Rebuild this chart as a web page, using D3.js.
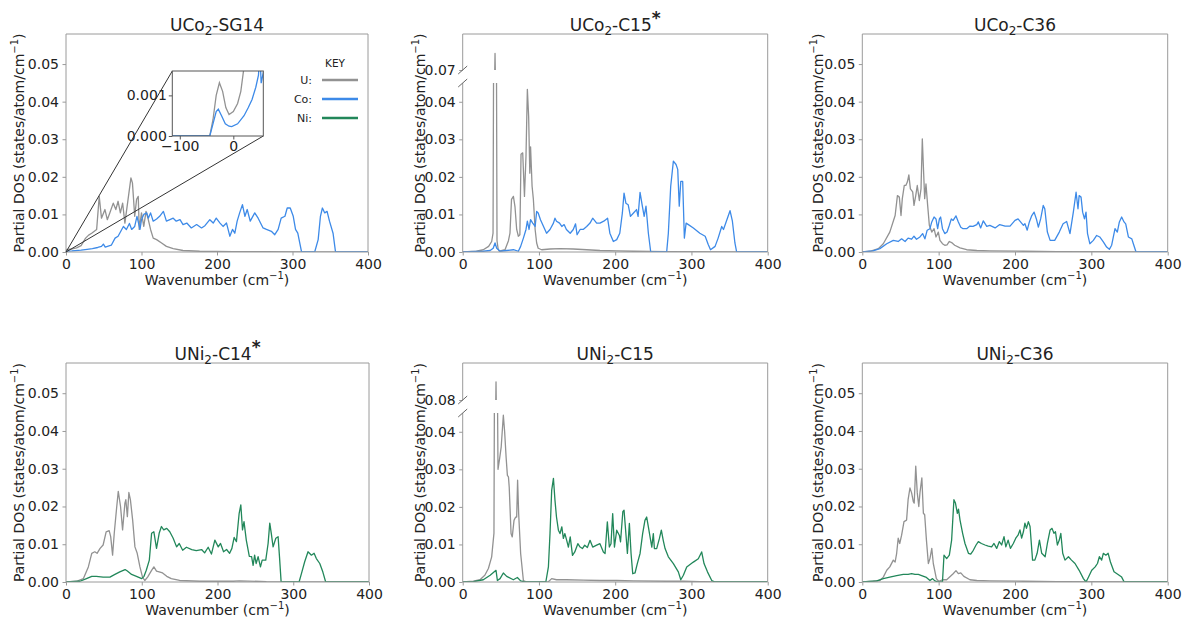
<!DOCTYPE html>
<html><head><meta charset="utf-8">
<script src="https://cdn.jsdelivr.net/npm/d3@7"></script>
<style>
body{margin:0;background:#fff}
svg{display:block}
text{font-family:"DejaVu Sans",sans-serif;fill:#222}
</style></head>
<body><svg id="c" width="1182" height="618"></svg>
<script>
// ---------------- DATA ----------------
const xTicks = [0, 100, 200, 300, 400];
const yTicks = [0, 0.01, 0.02, 0.03, 0.04, 0.05];
const yTicksBroken = [0, 0.01, 0.02, 0.03, 0.04];
const insetXTicks = [-100, 0];
const insetYTicks = [0, 0.001];
const legendLabels = ["U:", "Co:", "Ni:"];

// UCo2-SG14
const sg14_U = [[-115,0],[-44,0],[-38,0.0004],[-32,0.001],[-26,0.00131],[-20,0.0011],[-14,0.0007],[-8,0.00053],[0,0.0006],[8,0.0008],[14,0.0011],[20,0.0017],[26,0.0037],[30,0.0045],[34,0.005],[40.6,0.006],[44,0.0148],[47,0.009],[51.6,0.0113],[54.7,0.0086],[58,0.0104],[62.6,0.013],[66,0.0113],[69,0.0135],[72,0.0104],[75,0.013],[78,0.0077],[81,0.0122],[86,0.0197],[88,0.0184],[91,0.0095],[93.5,0.014],[95.7,0.0148],[97,0.006],[100,0.0104],[103,0.0068],[106,0.0108],[109,0.0086],[112,0.006],[115.5,0.0037],[120,0.0033],[126.6,0.0024],[133,0.0015],[142,0.0009],[155,0.0004],[177,0.0002],[221,0.0001],[265,0.0001],[310,0],[400,0]];
const sg14_Co = [[-115,0],[-44,0],[-38,0.0003],[-32,0.0006],[-28,0.00066],[-22,0.0005],[-15,0.0003],[-8,0.00024],[-3,0.00023],[8,0.0003],[20,0.0005],[28,0.0007],[35,0.0009],[42,0.0012],[47,0.0015],[49.5,0.0021],[52,0.0013],[55,0.0015],[60,0.0018],[65,0.0037],[69,0.0042],[76,0.0068],[80,0.006],[84,0.0076],[87,0.006],[91,0.0068],[94,0.0095],[98,0.006],[100,0.0086],[103,0.01],[107,0.0104],[109,0.009],[112,0.0104],[115.5,0.0082],[120,0.0088],[124,0.0095],[129,0.0108],[133,0.0082],[137.6,0.0086],[142,0.009],[146,0.0082],[151,0.0086],[155,0.0073],[160,0.0077],[166,0.0064],[173,0.0073],[179.5,0.0064],[184,0.007],[190.5,0.0086],[195,0.0077],[199,0.009],[204,0.0077],[208,0.0068],[212.6,0.0077],[217,0.0042],[220.5,0.006],[223.6,0.005],[226.7,0.0082],[230,0.0104],[233.7,0.0126],[237,0.0095],[240,0.0113],[244,0.0082],[250,0.0104],[254.5,0.009],[261,0.0064],[265.5,0.006],[272,0.0055],[276.5,0.0046],[281,0.006],[285,0.009],[290,0.0095],[293,0.0117],[297,0.0117],[301,0.0095],[304,0.006],[307,0.005],[312,0],[329.4,0],[334,0.0033],[337,0.0095],[339.6,0.0117],[342.7,0.0104],[345.8,0.0108],[349,0.0082],[353.7,0.005],[357,0],[400,0]];

// UCo2-C15*
const c15co_U = [[0,0],[18,0.0002],[27,0.0006],[34,0.0015],[38,0.0028],[39.8,0.005],[40.5,0.05],[42.4,0.0746],[44.3,0.05],[45,0.003],[46.5,0.0008],[48,0.0002],[55.5,0.0006],[60,0.003],[62,0.005],[64,0.014],[66.5,0.0148],[68.6,0.012],[70.8,0.006],[73,0.0042],[75,0.0046],[76.5,0.026],[78.7,0.0264],[81,0.0148],[83,0.0255],[84.8,0.0433],[86.5,0.036],[88,0.021],[89,0.028],[91,0.0175],[92.7,0.014],[95,0.006],[97,0.0024],[99,0.001],[103.6,0.0006],[114.5,0.0008],[127.6,0.0009],[145,0.0008],[162.6,0.0006],[180,0.0004],[202,0.0003],[224,0.0002],[267.5,0.0001],[360,0.00005],[400,0]];
const c15co_Co = [[0,0],[27,0.0002],[36,0.0004],[40,0.001],[42.4,0.0024],[44.6,0.001],[49,0.0002],[57.7,0.0004],[66.5,0.0006],[73,0.0002],[76,0.0015],[79.6,0.0037],[83,0.006],[84.8,0.0082],[87,0.006],[89,0.0086],[91.8,0.0077],[95,0.0068],[97,0.0108],[99,0.0104],[102,0.0086],[106,0.0068],[110,0.005],[114.5,0.006],[119,0.0077],[121,0.009],[123,0.0082],[127,0.0077],[130,0.0068],[133,0.0073],[136,0.006],[141,0.005],[145,0.006],[148,0.0075],[150,0.0046],[154,0.006],[158,0.006],[162.6,0.0068],[167,0.0077],[170.5,0.009],[175.7,0.0077],[180,0.0077],[185,0.0082],[190,0.009],[193,0.005],[197.6,0.0028],[202,0.0033],[206,0.005],[209.4,0.0104],[211.6,0.0157],[214,0.013],[217,0.0126],[220,0.0095],[224,0.0104],[228,0.0113],[230,0.0095],[232.6,0.0159],[235.6,0.0122],[238,0.0095],[240.4,0.0122],[243.5,0.005],[246.6,0],[267.5,0],[269.7,0.005],[272.8,0.0175],[276.3,0.0242],[279.8,0.0233],[282,0.022],[284,0.0122],[286,0.0188],[288.5,0.0188],[290.7,0.0037],[293,0.0077],[296,0.0073],[302.5,0.0064],[311,0.005],[318,0.0042],[322,0.002],[325,0.0006],[331,0.0015],[335,0.0037],[339.7,0.0068],[342,0.006],[345,0.0077],[350.6,0.011],[353.7,0.0082],[357,0.0024],[359.3,0],[400,0]];

// UCo2-C36
const c36co_U = [[0,0],[10,0.0002],[21,0.0009],[27.5,0.0022],[36,0.0053],[43,0.0097],[46,0.015],[48.5,0.0146],[50.7,0.0097],[52.4,0.0142],[55,0.0177],[57,0.0177],[59,0.0186],[61,0.0205],[63,0.0168],[66,0.016],[67.7,0.0124],[70,0.015],[72,0.0177],[74.7,0.0137],[76.9,0.0168],[78.6,0.0301],[80.3,0.0212],[81.7,0.0142],[83.4,0.0181],[85.6,0.0124],[87.8,0.0071],[91,0.0053],[94,0.0062],[96.5,0.004],[99.6,0.0053],[101.7,0.0031],[105,0.0022],[108,0.0018],[111,0.0019],[114,0.0028],[117,0.0025],[121,0.0018],[128,0.0011],[136.7,0.0006],[150,0.0004],[167,0.0003],[211,0.0002],[254.6,0.0001],[400,0]];
const c36co_Co = [[0,0],[14,0.0003],[23,0.0009],[32,0.0022],[40.6,0.0031],[47,0.0028],[51.5,0.0035],[56,0.0028],[60,0.0037],[64.6,0.0034],[67.7,0.0042],[71,0.0034],[75.5,0.004],[79,0.0049],[82,0.0035],[85,0.0058],[88.6,0.0062],[91,0.008],[94,0.0093],[96.5,0.0088],[98.7,0.0062],[101,0.0088],[102.6,0.0093],[105,0.0062],[108,0.0049],[111,0.0053],[114,0.0071],[116.6,0.0088],[119,0.0084],[122.7,0.0096],[125.8,0.008],[129,0.0066],[132,0.0062],[136.7,0.0062],[141,0.0069],[145,0.0068],[150,0.0073],[152,0.008],[155,0.0064],[158.5,0.0083],[163,0.0068],[167,0.0071],[174,0.0064],[180,0.0073],[187,0.0069],[193.5,0.0069],[200,0.0084],[204,0.0088],[207,0.0081],[211,0.0071],[213,0.0075],[216,0.0058],[218.8,0.008],[222,0.0097],[225,0.0106],[228,0.0088],[230.6,0.0066],[233.6,0.0088],[237,0.0124],[239,0.0115],[242.4,0.0053],[246,0.0031],[252,0.0031],[258,0.0053],[263,0.0075],[267.7,0.0081],[272,0.0049],[276.4,0.0106],[280,0.0159],[282.5,0.0115],[284,0.015],[286.5,0.0146],[288.6,0.0106],[291,0.0088],[293,0.0106],[295,0.0049],[298,0.0022],[302.6,0.0031],[307,0.0044],[311,0.004],[315.7,0.0027],[320,0.0013],[323.6,0.0007],[326.6,0.0018],[331,0.0062],[334,0.0053],[336.7,0.008],[339.7,0.0093],[342.8,0.008],[345,0.0075],[348.5,0.004],[353,0.0035],[355,0.0022],[358.5,0],[400,0]];

// UNi2-C14*
const c14ni_U = [[0,0],[14,0.0002],[23,0.0009],[29.5,0.004],[34,0.0076],[38,0.008],[41,0.0076],[45,0.0089],[49,0.0098],[53,0.0133],[57,0.0136],[59,0.012],[61.5,0.0071],[63.7,0.0129],[67,0.02],[69,0.024],[72,0.02],[74.7,0.0138],[77.8,0.0209],[79,0.0218],[81,0.0173],[83,0.0237],[85,0.0218],[88,0.0164],[91,0.0093],[94,0.0076],[97.6,0.004],[101,0.0013],[104,0.0004],[107.7,0.0013],[113,0.0031],[116,0.004],[119.5,0.0029],[123,0.0027],[127.5,0.0024],[133,0.0015],[139,0.0009],[150,0.0004],[176.7,0.0002],[220.7,0.0002],[229,0.0003],[264.6,0.0001],[400,0]];
const c14ni_Ni = [[0,0],[18.5,0.0002],[27,0.0009],[34,0.0015],[40,0.0015],[49,0.0013],[58,0.0013],[64.6,0.002],[71,0.0027],[78,0.0033],[81,0.0029],[86.6,0.002],[93,0.0015],[100,0.0009],[103,0.0015],[106,0.0031],[110,0.0058],[113,0.0129],[116,0.0133],[119.5,0.0089],[123,0.0129],[126,0.0147],[129,0.0138],[133,0.0142],[137,0.0133],[141.5,0.0116],[146,0.0093],[149.5,0.0102],[154,0.0084],[159,0.0092],[166,0.0086],[172,0.0083],[179,0.0086],[183,0.0077],[187.7,0.0092],[192,0.0074],[196.5,0.0111],[201,0.0093],[204,0.0102],[208,0.008],[212,0.0086],[216,0.0076],[219,0.0089],[222,0.0118],[225,0.0107],[228.6,0.0182],[230.8,0.0204],[233,0.0138],[235,0.016],[238,0.0111],[242,0.0068],[245,0.0067],[247,0.0044],[249,0.0071],[251,0.0049],[253.6,0.0067],[256.7,0.004],[259,0.0058],[263.7,0.0058],[266.8,0.0102],[269,0.0156],[271,0.0129],[273.4,0.0093],[277,0.0116],[280,0.012],[282,0.0062],[284,0],[307.7,0],[310.8,0.0022],[315,0.0053],[319.5,0.008],[324,0.0071],[327.5,0.0076],[330.5,0.0062],[335,0.0049],[339,0.0027],[342.8,0],[400,0]];

// UNi2-C15
const c15ni_U = [[0,0],[14,0.0002],[22.7,0.0006],[29,0.0018],[33.7,0.0036],[38,0.0067],[41,0.013],[41.6,0.05],[43.7,0.0849],[45.6,0.05],[46.3,0.03],[48.5,0.033],[50.5,0.036],[53.3,0.0444],[55,0.04],[57,0.033],[58.6,0.0284],[60,0.028],[61,0.0253],[63.4,0.0129],[65,0.012],[67.3,0.0164],[69.5,0.0173],[70.8,0.0173],[72,0.0271],[73.4,0.0182],[76,0.0076],[79.6,0.0004],[84,0],[112,0],[116.7,0.0009],[123,0.0006],[136,0.0006],[158,0.0005],[180,0.0004],[202,0.0004],[224,0.0003],[267.5,0.0002],[289,0.0002],[311,0.0001],[355,0],[400,0]];
const c15ni_Ni = [[0,0],[14,0.0001],[27,0.0006],[36,0.0018],[43.7,0.0031],[45.5,0.0004],[49,0.0009],[53.3,0.0024],[57.7,0.0015],[66.4,0.0006],[71.7,0.0012],[76,0.0003],[81.7,0],[109,0],[112.4,0.004],[114.5,0.0129],[116.7,0.0244],[119,0.0276],[121,0.0218],[123,0.0173],[125.5,0.0138],[127.6,0.0129],[130,0.0147],[132,0.0116],[134,0.0129],[136.4,0.0111],[138.6,0.0093],[141,0.012],[144,0.0071],[147,0.008],[151,0.0102],[154,0.0093],[157,0.0089],[160,0.0098],[163.5,0.0092],[167,0.0111],[170.5,0.0093],[175.7,0.0098],[180,0.0102],[184.5,0.008],[186.7,0.0076],[189.7,0.016],[192.3,0.0093],[194.5,0.0102],[196.7,0.0182],[199,0.0093],[202,0.0138],[205.5,0.0124],[207,0.0107],[210,0.0187],[211.6,0.0191],[214,0.0129],[216,0.0076],[218.6,0.0156],[220.8,0.0076],[223,0.0022],[226,0.0024],[229,0.0049],[232.6,0.0076],[236,0.0129],[239,0.0164],[241.3,0.0173],[243.5,0.0147],[245.7,0.012],[248,0.0093],[250,0.0129],[251.4,0.0089],[254.4,0.0089],[258,0.0116],[260.5,0.0138],[263,0.0111],[265.4,0.0089],[269.7,0.0067],[276.3,0.0049],[282.8,0.0027],[286,0.0006],[289.4,0.0018],[293.8,0.004],[302.5,0.0053],[309,0.0062],[313.4,0.008],[316.5,0.0049],[321,0.0027],[326.6,0.0004],[331,0],[400,0]];

// UNi2-C36
const c36ni_U = [[0,0],[14.4,0.0002],[23,0.0004],[27.5,0.0013],[32,0.0031],[36,0.004],[40.6,0.0058],[43,0.0053],[45,0.0076],[47,0.0116],[49,0.0102],[51.5,0.0124],[54.6,0.016],[58,0.0164],[60,0.0218],[62.4,0.0249],[64.6,0.0236],[66.8,0.0213],[68,0.0209],[70,0.0307],[72,0.0236],[74,0.02],[75.5,0.0236],[78,0.0276],[80,0.0182],[81.7,0.0178],[84,0.0111],[86.5,0.0049],[88.6,0.0062],[91,0.0089],[93,0.0049],[97,0.0009],[100,0.0002],[106,0.0006],[110.5,0.0006],[119,0.0022],[122.7,0.003],[125.8,0.0022],[129,0.0024],[133,0.0015],[141,0.0006],[150,0.0004],[167,0.0003],[211,0.0002],[254.6,0.0001],[400,0]];
const c36ni_Ni = [[0,0],[19,0.0003],[27.5,0.0009],[36,0.0013],[45,0.0017],[53.7,0.002],[60,0.002],[64.6,0.0022],[69,0.002],[73.4,0.002],[77.7,0.0017],[84,0.0012],[88.6,0.0004],[92,0.0009],[95,0.0003],[99.6,0],[105,0],[107,0.0071],[110.5,0.0062],[114,0.0071],[117,0.0111],[120,0.0218],[122,0.0209],[124.5,0.0182],[126,0.0193],[128,0.0164],[131.4,0.0129],[134.5,0.0102],[139,0.0076],[142,0.0074],[145.4,0.0084],[149,0.0098],[152,0.0107],[156,0.0102],[160.7,0.0098],[165,0.0095],[169.4,0.0093],[172.5,0.0102],[176,0.0089],[179.5,0.0107],[182.5,0.0098],[185.6,0.012],[188,0.0093],[191,0.0111],[194,0.0089],[197.8,0.0102],[201,0.0116],[204,0.0124],[206.5,0.0138],[208.7,0.0116],[211,0.0133],[213,0.0156],[215,0.0142],[217.5,0.016],[219.7,0.0147],[223,0.0058],[226,0.0058],[229,0.0076],[232,0.0111],[235,0.0076],[239.5,0.0067],[242.4,0.0102],[246,0.0138],[248.5,0.0142],[251,0.0129],[253,0.0133],[255.5,0.0098],[258,0.0111],[260,0.0129],[262.5,0.0076],[265.5,0.0058],[270,0.0067],[274,0.0058],[278.6,0.0049],[284,0.0031],[289.6,0.0009],[293,0],[296,0.0012],[300.5,0.0031],[305,0.004],[308,0.0049],[310.5,0.0067],[313.5,0.0058],[315.7,0.0076],[319,0.0071],[322,0.0076],[325,0.0053],[329.7,0.0027],[335,0.002],[339.7,0.0013],[343,0],[400,0]];

// ---------------- LAYOUT / STYLE ----------------
const COLORS = {U: "#929292", Co: "#3d8ae8", Ni: "#22875a"};
const SPINE = "#9a9a9a";
const panels = [
  {title: ["UCo", "2", "-SG14", ""], x0: 66, x1: 368, y0: 34, y1: 252, ylx: 42, series: [["U", sg14_U], ["Co", sg14_Co]], inset: true, legend: true},
  {title: ["UCo", "2", "-C15", "*"], x0: 462.7, x1: 767.7, y0: 34, y1: 252, ylx: 38, series: [["U", c15co_U], ["Co", c15co_Co]], brk: {lowMax: 0.045, lowTop: 83, upMin: 0.07, upMax: 0.08, upBottom: 70}},
  {title: ["UCo", "2", "-C36", ""], x0: 862.3, x1: 1167.7, y0: 34, y1: 252, ylx: 39, series: [["U", c36co_U], ["Co", c36co_Co]]},
  {title: ["UNi", "2", "-C14", "*"], x0: 66, x1: 369, y0: 363, y1: 582, ylx: 42, series: [["U", c14ni_U], ["Ni", c14ni_Ni]]},
  {title: ["UNi", "2", "-C15", ""], x0: 462.7, x1: 767.7, y0: 363, y1: 582, ylx: 38, series: [["U", c15ni_U], ["Ni", c15ni_Ni]], brk: {lowMax: 0.045, lowTop: 413, upMin: 0.08, upMax: 0.09, upBottom: 400}},
  {title: ["UNi", "2", "-C36", ""], x0: 862.3, x1: 1167.7, y0: 363, y1: 582, ylx: 39, series: [["U", c36ni_U], ["Ni", c36ni_Ni]]}
];
const YMAX = 0.058;

const svg = d3.select("#c");
const defs = svg.append("defs");
let clipN = 0;
function clip(x, y, w, h) {
  const id = "cl" + (clipN++);
  defs.append("clipPath").attr("id", id).append("rect").attr("x", x).attr("y", y).attr("width", w).attr("height", h);
  return "url(#" + id + ")";
}
function styleAxis(g, color) {
  g.select(".domain").remove();
  g.selectAll(".tick line").attr("stroke", color).attr("stroke-width", 1);
  g.selectAll(".tick text").attr("font-size", 14).attr("fill", "#222").attr("font-family", "DejaVu Sans");
}

panels.forEach(p => {
  const g = svg.append("g");
  const x = d3.scaleLinear().domain([0, 400]).range([p.x0, p.x1]);
  const W = p.x1 - p.x0;

  const regions = [];
  if (p.brk) {
    const yl = d3.scaleLinear().domain([0, p.brk.lowMax]).range([p.y1, p.brk.lowTop]);
    const yu = d3.scaleLinear().domain([p.brk.upMin, p.brk.upMax]).range([p.brk.upBottom, p.y0]);
    regions.push({y: yl, cp: clip(p.x0, p.brk.lowTop, W, p.y1 - p.brk.lowTop), ticks: yTicksBroken});
    regions.push({y: yu, cp: clip(p.x0, p.y0, W, p.brk.upBottom - p.y0), ticks: [p.brk.upMin]});
  } else {
    const y = d3.scaleLinear().domain([0, YMAX]).range([p.y1, p.y0]);
    regions.push({y: y, cp: clip(p.x0, p.y0, W, p.y1 - p.y0), ticks: yTicks});
  }
  regions.forEach(r => {
    const line = d3.line().x(d => x(d[0])).y(d => r.y(d[1]));
    const lg = g.append("g").attr("clip-path", r.cp);
    p.series.forEach(([k, data]) => {
      lg.append("path").attr("d", line(data)).attr("fill", "none")
        .attr("stroke", COLORS[k]).attr("stroke-width", 1.3).attr("stroke-linejoin", "round");
    });
    const ya = g.append("g").attr("transform", `translate(${p.x0},0)`)
      .call(d3.axisLeft(r.y).tickValues(r.ticks).tickFormat(d3.format(".2f")).tickSize(3.5).tickPadding(3.5).tickSizeOuter(0));
    styleAxis(ya, SPINE);
  });

  const xa = g.append("g").attr("transform", `translate(0,${p.y1})`)
    .call(d3.axisBottom(x).tickValues(xTicks).tickFormat(d3.format("d")).tickSize(3.5).tickPadding(3.5).tickSizeOuter(0));
  styleAxis(xa, SPINE);

  const sp = g.append("g").attr("stroke", SPINE).attr("stroke-width", 1).attr("fill", "none");
  sp.append("line").attr("x1", p.x0).attr("x2", p.x1).attr("y1", p.y0).attr("y2", p.y0);
  sp.append("line").attr("x1", p.x0).attr("x2", p.x1).attr("y1", p.y1).attr("y2", p.y1);
  sp.append("line").attr("x1", p.x1).attr("x2", p.x1).attr("y1", p.y0).attr("y2", p.y1);
  if (p.brk) {
    sp.append("line").attr("x1", p.x0).attr("x2", p.x0).attr("y1", p.y0).attr("y2", p.brk.upBottom);
    sp.append("line").attr("x1", p.x0).attr("x2", p.x0).attr("y1", p.brk.lowTop).attr("y2", p.y1);
    [p.brk.upBottom, p.brk.lowTop].forEach(yy => {
      sp.append("line").attr("x1", p.x0 - 4.5).attr("y1", yy + 4).attr("x2", p.x0 + 4.5).attr("y2", yy - 4).attr("stroke", "#666");
    });
  } else {
    sp.append("line").attr("x1", p.x0).attr("x2", p.x0).attr("y1", p.y0).attr("y2", p.y1);
  }

  const cx = (p.x0 + p.x1) / 2;
  const t = g.append("text").attr("x", cx).attr("y", p.y0 - 3).attr("text-anchor", "middle").attr("font-size", 17);
  t.append("tspan").text(p.title[0]);
  t.append("tspan").attr("dy", 4).attr("font-size", 12).text(p.title[1]);
  t.append("tspan").attr("dy", -4).text(p.title[2]);
  if (p.title[3]) t.append("tspan").attr("dy", -7).attr("font-size", 17).attr("font-weight", "bold").text(p.title[3]);

  const xl = g.append("text").attr("x", cx).attr("y", p.y1 + 33).attr("text-anchor", "middle").attr("font-size", 14);
  xl.append("tspan").text("Wavenumber (cm");
  xl.append("tspan").attr("dy", -6).attr("font-size", 10).text("\u22121");
  xl.append("tspan").attr("dy", 6).text(")");

  const cy = (p.y0 + p.y1) / 2;
  const lx = p.x0 - p.ylx;
  const yl = g.append("text").attr("transform", `translate(${lx},${cy}) rotate(-90)`).attr("text-anchor", "middle").attr("font-size", 14);
  yl.append("tspan").text("Partial DOS (states/atom/cm");
  yl.append("tspan").attr("dy", -6).attr("font-size", 10).text("\u22121");
  yl.append("tspan").attr("dy", 6).text(")");

  if (p.legend) {
    const lg = g.append("g");
    lg.append("text").attr("x", 335).attr("y", 67).attr("text-anchor", "middle").attr("font-size", 10.5).text("KEY");
    ["U", "Co", "Ni"].forEach((k, i) => {
      const yy = 80 + i * 19;
      lg.append("text").attr("x", 312).attr("y", yy + 4).attr("text-anchor", "end").attr("font-size", 11).text(legendLabels[i]);
      lg.append("line").attr("x1", 322).attr("x2", 358).attr("y1", yy).attr("y2", yy).attr("stroke", COLORS[k]).attr("stroke-width", 2.5);
    });
  }

  if (p.inset) {
    const ix0 = 172.3, ix1 = 263.3, iy0 = 71, iy1 = 136;
    const xi = d3.scaleLinear().domain([-114, 56]).range([ix0, ix1]);
    const yi = d3.scaleLinear().domain([0, 0.0016]).range([iy1, iy0]);
    const y0main = regions[0].y(0);
    g.append("line").attr("x1", x(0)).attr("y1", y0main).attr("x2", ix0).attr("y2", iy0).attr("stroke", "#333").attr("stroke-width", 1);
    g.append("line").attr("x1", x(0)).attr("y1", y0main).attr("x2", ix1).attr("y2", iy1).attr("stroke", "#333").attr("stroke-width", 1);
    g.append("rect").attr("x", ix0).attr("y", iy0).attr("width", ix1 - ix0).attr("height", iy1 - iy0).attr("fill", "#fff");
    const icp = clip(ix0, iy0, ix1 - ix0, iy1 - iy0);
    const il = d3.line().x(d => xi(d[0])).y(d => yi(d[1]));
    const ig = g.append("g").attr("clip-path", icp);
    p.series.forEach(([k, data]) => {
      ig.append("path").attr("d", il(data)).attr("fill", "none").attr("stroke", COLORS[k]).attr("stroke-width", 1.3);
    });
    const ixa = g.append("g").attr("transform", `translate(0,${iy1})`)
      .call(d3.axisBottom(xi).tickValues(insetXTicks).tickSize(3.5).tickPadding(2).tickSizeOuter(0));
    styleAxis(ixa, "#555");
    const iya = g.append("g").attr("transform", `translate(${ix0},0)`)
      .call(d3.axisLeft(yi).tickValues(insetYTicks).tickFormat(d3.format(".3f")).tickSize(3.5).tickPadding(2).tickSizeOuter(0));
    styleAxis(iya, "#555");
    g.append("rect").attr("x", ix0).attr("y", iy0).attr("width", ix1 - ix0).attr("height", iy1 - iy0)
      .attr("fill", "none").attr("stroke", "#555").attr("stroke-width", 1);
  }
});
</script></body></html>
